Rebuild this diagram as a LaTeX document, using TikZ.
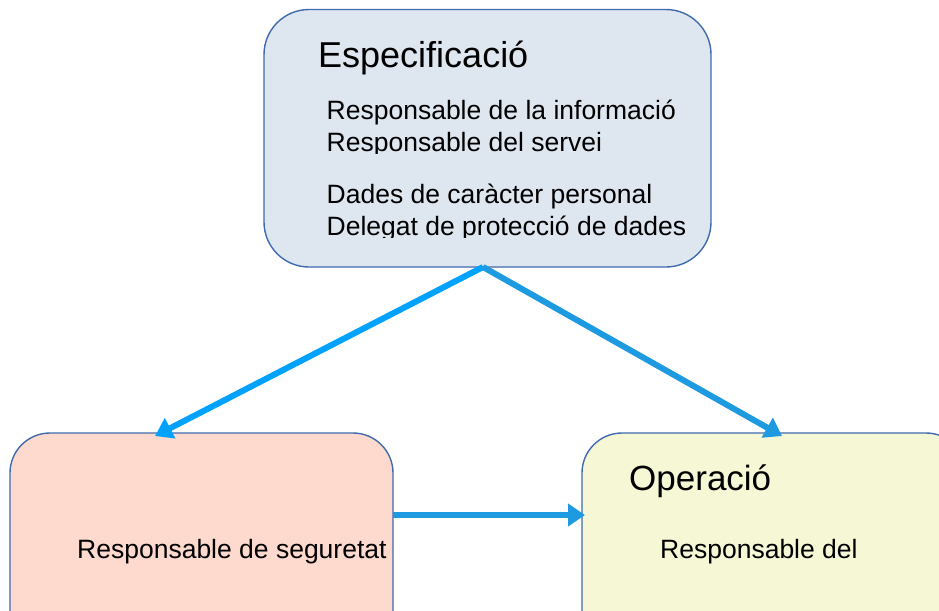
\documentclass[tikz,border=0pt]{standalone}
\usepackage{fontspec}
\setmainfont{Liberation Sans}
\usetikzlibrary{arrows.meta}
\definecolor{topfill}{HTML}{DEE6EF}
\definecolor{leftfill}{HTML}{FDD9CE}
\definecolor{rightfill}{HTML}{F5F7D5}
\definecolor{boxline}{HTML}{3F6BAE}
\definecolor{arrowA}{HTML}{00A2FF}
\definecolor{arrowB}{HTML}{1E9BE0}
\tikzset{
  box/.style={draw=boxline, line width=1.4pt, rounded corners=#1},
  conn/.style={line width=6pt, -{Triangle[length=17pt,width=22pt]}},
  title/.style={anchor=base west, inner sep=0pt, font=\fontsize{36}{40}\selectfont},
  body/.style={anchor=base west, inner sep=0pt, font=\fontsize{26.5}{30}\selectfont},
}
\begin{document}
\begin{tikzpicture}[x=1pt,y=-1pt]
\useasboundingbox (0,0) rectangle (939,610);
\clip (0,0) rectangle (939,610);
% boxes
\draw[box=45pt, fill=topfill] (264,9.5) rectangle (711,267);
\draw[box=40pt, fill=leftfill] (10,433) rectangle (393,660);
\draw[box=40pt, fill=rightfill] (582,433) rectangle (966,660);
\coordinate (top) at (483,267);
\coordinate (leftin) at (155,436);
\coordinate (rightin) at (782,436);
\coordinate (leftout) at (393,515);
\coordinate (rightwest) at (585,515);
% texts
\node[title] (spec) at (318,67) {Especificació};
\node[body] (l1) at (326.5,119) {Responsable de la informació};
\begin{scope}
\clip (300,120) rectangle (700,153);
\node[body] (l2) at (326.5,151) {Responsable del servei};
\end{scope}
\node[body] (l3) at (326.5,203) {Dades de caràcter personal};
\begin{scope}
\clip (300,205) rectangle (700,237);
\node[body] (l4) at (326.5,235) {Delegat de protecció de dades};
\end{scope}
\node[body] (seg) at (77,558) {Responsable de seguretat};
\node[title,font=\fontsize{35}{40}\selectfont] (op) at (629,490) {Operació};
\node[body] (rdel) at (660,558) {Responsable del};
% connectors
\draw[conn, arrowA] (top) -- (leftin);
\draw[conn, arrowB] (top) -- (rightin);
\draw[conn, arrowB] (leftout) -- (rightwest);
\end{tikzpicture}
\end{document}
